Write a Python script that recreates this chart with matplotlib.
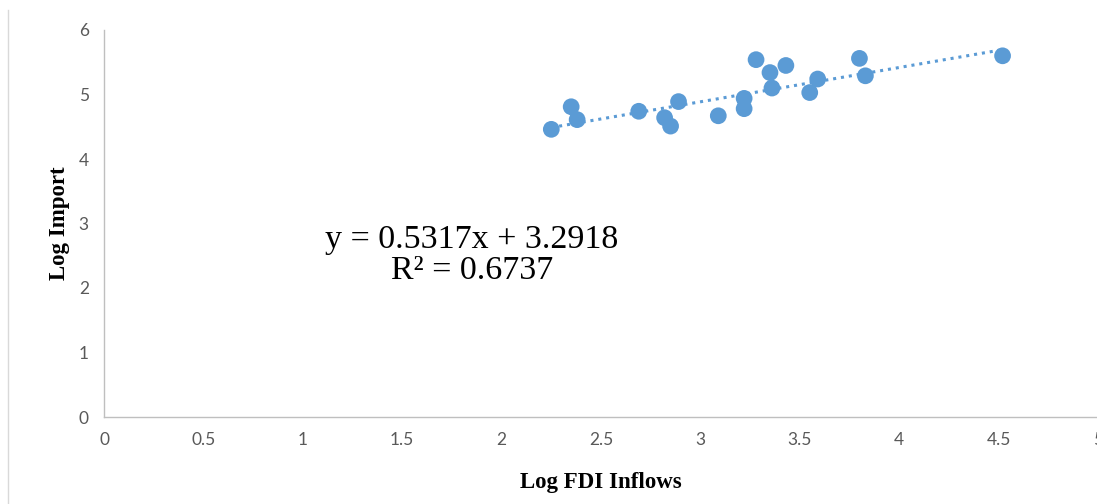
import numpy as np
import matplotlib.pyplot as plt
from matplotlib.lines import Line2D

# data
log_fdi = [2.25, 2.35, 2.38, 2.69, 2.82, 2.85, 2.89, 3.09, 3.22, 3.22,
           3.28, 3.35, 3.43, 3.36, 3.55, 3.59, 3.80, 3.83, 4.52]
log_import = [4.46, 4.81, 4.61, 4.74, 4.64, 4.51, 4.89, 4.67, 4.94, 4.78,
              5.54, 5.34, 5.45, 5.10, 5.03, 5.24, 5.56, 5.29, 5.60]
slope = 0.5317
intercept = 3.2918
r2 = 0.6737
xticks = [0, 0.5, 1, 1.5, 2, 2.5, 3, 3.5, 4, 4.5, 5]
yticks = [0, 1, 2, 3, 4, 5, 6]

blue = '#5b9bd5'
grey_axis = '#bfbfbf'
grey_text = '#595959'

fig = plt.figure(figsize=(10.97, 5.04), dpi=100)
ax = fig.add_axes([104/1097, 87/504, 994/1097, 387/504])

ax.scatter(log_fdi, log_import, s=145, c=blue, edgecolors='none', zorder=3)

# linear trend line over data range
xs = np.array([min(log_fdi), max(log_fdi)])
ax.plot(xs, slope*xs + intercept, color=blue, lw=2.2, linestyle=(0, (1, 1.6)), zorder=2)

ax.set_xlim(0, 5)
ax.set_ylim(0, 6)
ax.set_xticks(xticks)
ax.set_xticklabels([f'{t:g}' for t in xticks])
ax.set_yticks(yticks)

for side in ['top', 'right']:
    ax.spines[side].set_visible(False)
for side in ['left', 'bottom']:
    ax.spines[side].set_color(grey_axis)
    ax.spines[side].set_linewidth(1.0)

ax.tick_params(length=0, labelsize=12.5, labelcolor=grey_text, pad=11)
for lab in ax.get_xticklabels() + ax.get_yticklabels():
    lab.set_family(['Lato', 'DejaVu Sans'])

ax.set_xlabel('Log FDI Inflows', family='Liberation Serif', fontweight='bold',
              fontsize=16.5, labelpad=17)
ax.set_ylabel('Log Import', family='Liberation Serif', fontweight='bold',
              fontsize=16.5, labelpad=6)

ax.text(1.85, 2.51, f'y = {slope}x + {intercept}\nR² = {r2}', ha='center', va='center',
        family='Liberation Serif', fontsize=24.5, linespacing=1.0)

# chart border on the left edge
fig.add_artist(Line2D([8/1097, 8/1097], [0, 1 - 10/504], color='#d9d9d9', lw=1))

fig.savefig('out.png', dpi=100)
